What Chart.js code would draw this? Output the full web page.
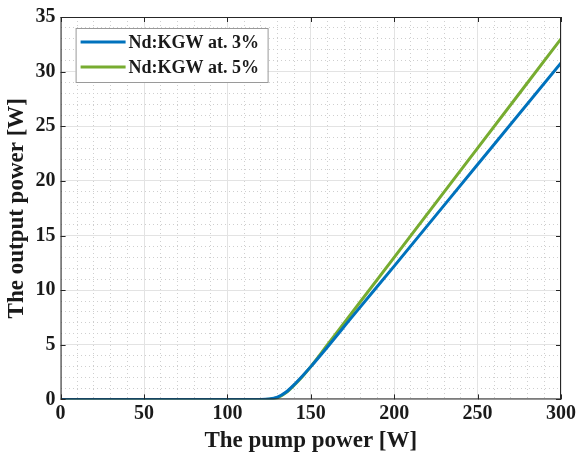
<!DOCTYPE html>
<html>
<head>
<meta charset="utf-8">
<script src="https://cdn.jsdelivr.net/npm/chart.js@4"></script>
<style>
  html, body { margin: 0; padding: 0; background: #fff; }
  #wrap { width: 578px; height: 461px; }
</style>
</head>
<body>
<div id="wrap"><canvas id="grafico"></canvas></div>
<script>
// data
const serieNomes = ["Nd:KGW at. 3%", "Nd:KGW at. 5%"];
const pump3 = [0, 50, 100, 120, 125, 130, 135, 140, 145, 150, 160, 175, 200, 250, 300];
const out3 = [0, 0, 0, 0, 0.03, 0.2, 0.65, 1.35, 2.15, 3.0, 4.8, 7.6, 12.2, 21.5, 30.8];
const pump5 = [0, 50, 100, 120, 125, 130, 135, 140, 145, 150, 160, 175, 200, 250, 300];
const out5 = [0, 0, 0, 0, 0.02, 0.15, 0.6, 1.3, 2.1, 3.0, 5.0, 8.0, 13.0, 23.0, 33.0];
const xTicks = [0, 50, 100, 150, 200, 250, 300];
const yTicks = [0, 5, 10, 15, 20, 25, 30, 35];

const fonte = "'Liberation Serif', 'Times New Roman', serif";
const corTexto = "#1a1a1a";
const azul = "#0072BD";
const verde = "#77AC30";

function pontos(xs, ys) {
  return xs.map((x, i) => ({ x: x, y: ys[i] }));
}

// caixa do grafico + legenda dentro da area
const caixaLegenda = {
  id: "caixaLegenda",
  afterDraw(chart) {
    const ctx = chart.ctx;
    const a = chart.chartArea;
    ctx.save();
    // moldura
    ctx.strokeStyle = "#262626";
    ctx.lineWidth = 1;
    ctx.strokeRect(a.left + 0.5, a.top + 0.5, a.right - a.left - 1, a.bottom - a.top - 1);

    // marcas para dentro
    const sx = chart.scales.x, sy = chart.scales.y;
    ctx.beginPath();
    xTicks.forEach(v => {
      const p = Math.round(sx.getPixelForValue(v)) + 0.5;
      ctx.moveTo(p, a.bottom); ctx.lineTo(p, a.bottom - 5);
      ctx.moveTo(p, a.top); ctx.lineTo(p, a.top + 5);
    });
    yTicks.forEach(v => {
      const p = Math.round(sy.getPixelForValue(v)) + 0.5;
      ctx.moveTo(a.left, p); ctx.lineTo(a.left + 5, p);
      ctx.moveTo(a.right, p); ctx.lineTo(a.right - 5, p);
    });
    ctx.stroke();

    // legenda
    const lx = a.left + 15, ly = a.top + 11, lw = 192, lh = 54;
    ctx.fillStyle = "#fff";
    ctx.fillRect(lx, ly, lw, lh);
    ctx.strokeStyle = "#9a9a9a";
    ctx.strokeRect(lx + 0.5, ly + 0.5, lw, lh);
    const cores = [azul, verde];
    ctx.font = "bold 18px " + fonte;
    ctx.textBaseline = "middle";
    serieNomes.forEach((nome, i) => {
      const yy = ly + 14 + i * 25;
      ctx.strokeStyle = cores[i];
      ctx.lineWidth = 3;
      ctx.beginPath();
      ctx.moveTo(lx + 5, yy); ctx.lineTo(lx + 50, yy);
      ctx.stroke();
      ctx.fillStyle = corTexto;
      ctx.fillText(nome, lx + 53, yy + 1);
    });
    ctx.restore();
  }
};

new Chart(document.getElementById("grafico"), {
  type: "line",
  data: {
    datasets: [
      {
        label: serieNomes[0],
        data: pontos(pump3, out3),
        borderColor: azul,
        borderWidth: 3,
        pointRadius: 0,
        cubicInterpolationMode: "monotone",
        fill: false,
      },
      {
        label: serieNomes[1],
        data: pontos(pump5, out5),
        borderColor: verde,
        borderWidth: 3,
        pointRadius: 0,
        cubicInterpolationMode: "monotone",
        fill: false,
      },
    ],
  },
  options: {
    responsive: true,
    maintainAspectRatio: false,
    animation: false,
    layout: { padding: { left: 3, right: 0, top: -5, bottom: 6 } },
    plugins: {
      legend: { display: false },
      tooltip: { enabled: false },
    },
    scales: {
      xMenor: {
        type: "linear",
        position: "bottom",
        min: 0, max: 300,
        ticks: { display: false, stepSize: 10 },
        grid: { color: "#cfcfcf", drawTicks: false, lineWidth: 1 },
        border: { display: false, dash: [1, 3] },
      },
      yMenor: {
        type: "linear",
        position: "left",
        min: 0, max: 35,
        ticks: { display: false, stepSize: 1 },
        grid: { color: "#cfcfcf", drawTicks: false, lineWidth: 1 },
        border: { display: false, dash: [1, 3] },
      },
      x: {
        type: "linear",
        min: 0, max: 300,
        afterBuildTicks: (s) => { s.ticks = xTicks.map(v => ({ value: v })); },
        ticks: {
          color: corTexto,
          font: { family: fonte, size: 20, weight: "bold" },
          padding: 2,
          maxRotation: 0,
        },
        grid: { color: "#e3e3e3", drawTicks: false },
        border: { display: false },
        title: {
          display: true,
          text: "The pump power [W]",
          color: corTexto,
          font: { family: fonte, size: 23, weight: "bold" },
          padding: { top: 0, bottom: 0 },
        },
      },
      y: {
        type: "linear",
        min: 0, max: 35,
        afterBuildTicks: (s) => { s.ticks = yTicks.map(v => ({ value: v })); },
        ticks: {
          color: corTexto,
          font: { family: fonte, size: 20, weight: "bold" },
          padding: 5,
        },
        grid: { color: "#e3e3e3", drawTicks: false },
        border: { display: false },
        title: {
          display: true,
          text: "The output power [W]",
          color: corTexto,
          font: { family: fonte, size: 23, weight: "bold" },
          padding: { top: 0, bottom: 0 },
        },
      },
    },
  },
  plugins: [caixaLegenda],
});
</script>
</body>
</html>
